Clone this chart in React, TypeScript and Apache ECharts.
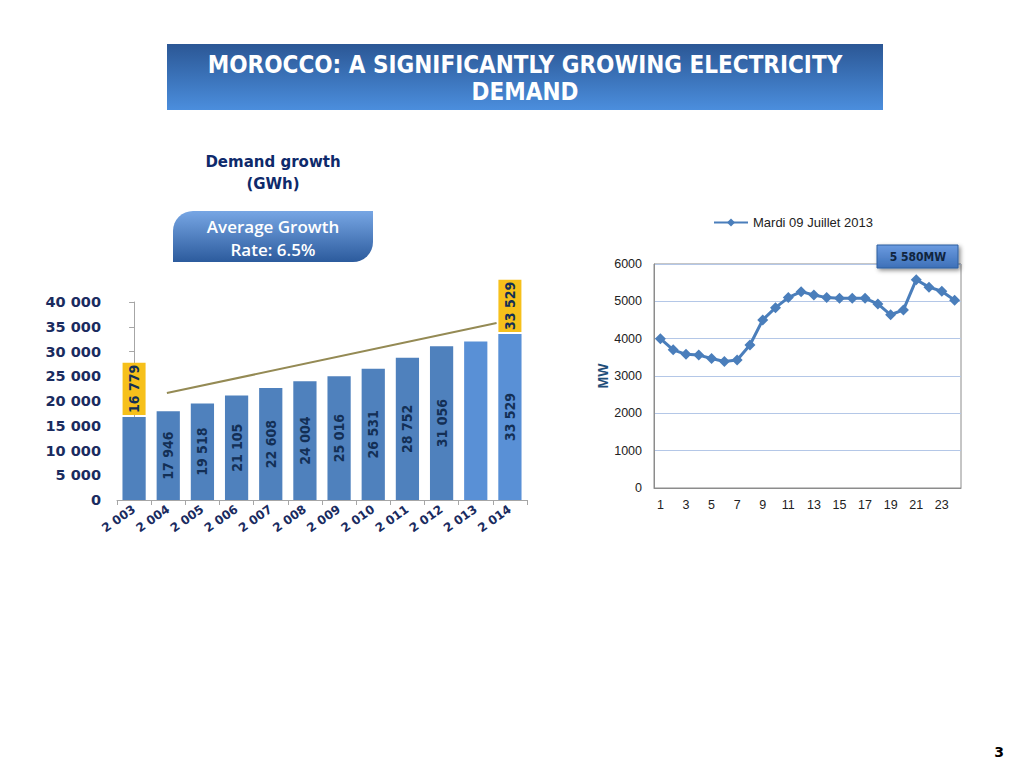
import React, { useEffect, useRef } from "react";
import * as echarts from "echarts";

const years = ["2 003", "2 004", "2 005", "2 006", "2 007", "2 008", "2 009", "2 010", "2 011", "2 012", "2 013", "2 014"];
const demandGWh = [16779, 17946, 19518, 21105, 22608, 24004, 25016, 26531, 28752, 31056, 32000, 33529];
const insideLabelShown = [false, true, true, true, true, true, true, true, true, true, false, true];
const yellowLabelShown = [true, false, false, false, false, false, false, false, false, false, false, true];
const trendX = [0.96, 10.61];
const trendY = [21600, 35760];

const hours = ["1", "2", "3", "4", "5", "6", "7", "8", "9", "10", "11", "12", "13", "14", "15", "16", "17", "18", "19", "20", "21", "22", "23", "24"];
const loadMW = [4000, 3700, 3580, 3560, 3470, 3390, 3430, 3830, 4500, 4830, 5100, 5260, 5170, 5100, 5080, 5080, 5080, 4930, 4640, 4770, 5580, 5380, 5270, 5030];
const legendName = "Mardi 09 Juillet 2013";

const fmt = (n: number) => String(Math.round(n)).replace(/\B(?=(\d{3})+(?!\d))/g, " ");

const NAVY = "#1a2b5f";
const LABEL_NAVY = "#132f55";

export default function App() {
  const ref = useRef<HTMLDivElement>(null);

  useEffect(() => {
    if (!ref.current) return;
    const chart = echarts.init(ref.current, null, { renderer: "svg" });

    const option: any = {
      animation: false,
      backgroundColor: "#ffffff",
      legend: {
        data: [legendName],
        left: 708,
        top: 211,
        itemWidth: 34,
        itemHeight: 10,
        itemGap: 4,
        textStyle: { fontFamily: "Liberation Sans", fontSize: 13, color: "#222" },
      },
      grid: [
        { left: 117, right: 497, top: 302, bottom: 268 },
        { left: 654, right: 63, top: 264, bottom: 280, show: true, borderColor: "#8c8c8c", borderWidth: 1 },
      ],
      xAxis: [
        {
          type: "category",
          gridIndex: 0,
          data: years,
          axisLine: { lineStyle: { color: "#a6a6a6" } },
          axisTick: { show: true, lineStyle: { color: "#a6a6a6" } },
          axisLabel: {
            interval: 0,
            rotate: 35,
            margin: 8,
            fontFamily: "DejaVu Sans",
            fontWeight: "bold",
            fontSize: 12,
            color: NAVY,
          },
        },
        { type: "value", gridIndex: 0, show: false, min: -0.5, max: 11.5 },
        {
          type: "category",
          gridIndex: 1,
          data: hours,
          boundaryGap: true,
          axisLine: { lineStyle: { color: "#8c8c8c" } },
          axisTick: { show: false },
          axisLabel: { interval: 1, fontFamily: "Liberation Sans", fontSize: 12.5, color: "#222", margin: 10 },
        },
      ],
      yAxis: [
        {
          type: "value",
          gridIndex: 0,
          min: 0,
          max: 40000,
          interval: 5000,
          splitLine: { show: false },
          axisLine: { show: true, lineStyle: { color: "#a6a6a6" } },
          axisTick: { show: true, lineStyle: { color: "#a6a6a6" } },
          axisLabel: {
            formatter: (v: number) => fmt(v),
            fontFamily: "DejaVu Sans",
            fontWeight: "bold",
            fontSize: 14.5,
            color: NAVY,
            margin: 16,
          },
        },
        {
          type: "value",
          gridIndex: 1,
          min: 0,
          max: 6000,
          interval: 1000,
          name: "MW",
          nameLocation: "middle",
          nameGap: 44,
          nameTextStyle: { fontFamily: "Liberation Sans", fontWeight: "bold", fontSize: 14, color: "#1f4e79" },
          splitLine: { lineStyle: { color: "#b4c7e7" } },
          axisLine: { show: true, lineStyle: { color: "#8c8c8c" } },
          axisTick: { show: false },
          axisLabel: { formatter: (v: number) => String(v), fontFamily: "Liberation Sans", fontSize: 12.5, color: "#222", margin: 12 },
        },
      ],
      series: [
        {
          type: "bar",
          xAxisIndex: 0,
          yAxisIndex: 0,
          barWidth: "68%",
          silent: true,
          data: demandGWh.map((v, i) => ({
            value: v,
            itemStyle: { color: i >= 10 ? "#5990d6" : "#4f81bd" },
            label: { show: insideLabelShown[i] },
          })),
          label: {
            position: "inside",
            rotate: 90,
            formatter: (p: any) => fmt(p.value),
            fontFamily: "'DejaVu Sans Condensed', sans-serif",
            fontWeight: "bold",
            fontSize: 14,
            color: LABEL_NAVY,
          },
        },
        {
          type: "bar",
          xAxisIndex: 0,
          yAxisIndex: 0,
          barWidth: "68%",
          barGap: "-100%",
          silent: true,
          z: 5,
          data: demandGWh.map((v, i) => ({
            value: v,
            label: { show: yellowLabelShown[i] },
          })),
          itemStyle: { color: "rgba(0,0,0,0)" },
          label: {
            position: "top",
            distance: 2,
            rotate: 90,
            align: "left",
            verticalAlign: "middle",
            formatter: (p: any) => fmt(p.value),
            fontFamily: "'DejaVu Sans Condensed', sans-serif",
            fontWeight: "bold",
            fontSize: 14,
            lineHeight: 17,
            color: LABEL_NAVY,
            backgroundColor: "#f6c01b",
            padding: [3, 2, 3, 2],
          },
        },
        {
          type: "line",
          xAxisIndex: 1,
          yAxisIndex: 0,
          silent: true,
          symbol: "none",
          data: trendX.map((x, i) => [x, trendY[i]]),
          lineStyle: { color: "#948a54", width: 2 },
        },
        {
          name: legendName,
          type: "line",
          xAxisIndex: 2,
          yAxisIndex: 1,
          data: loadMW,
          symbol: "diamond",
          symbolSize: 11,
          showAllSymbol: true,
          color: "#4a7ebb",
          itemStyle: { color: "#4a7ebb" },
          lineStyle: { color: "#4a7ebb", width: 3 },
        },
      ],
      graphic: [
        {
          type: "rect",
          shape: { x: 167, y: 44, width: 716, height: 66 },
          style: {
            fill: {
              type: "linear", x: 0, y: 0, x2: 0, y2: 1,
              colorStops: [
                { offset: 0, color: "#2b5795" },
                { offset: 1, color: "#4b8edd" },
              ],
            },
          },
        },
        {
          type: "text",
          x: 525,
          y: 65,
          style: {
            text: "MOROCCO: A SIGNIFICANTLY GROWING ELECTRICITY",
            fill: "#ffffff",
            font: "bold 24px 'DejaVu Sans Condensed', 'DejaVu Sans', sans-serif",
            align: "center",
            verticalAlign: "middle",
          },
        },
        {
          type: "text",
          x: 525,
          y: 92,
          style: {
            text: "DEMAND",
            fill: "#ffffff",
            font: "bold 24px 'DejaVu Sans Condensed', 'DejaVu Sans', sans-serif",
            align: "center",
            verticalAlign: "middle",
          },
        },
        {
          type: "text",
          x: 273,
          y: 162,
          style: {
            text: "Demand growth",
            fill: "#0e2a6b",
            font: "bold 15px 'DejaVu Sans', sans-serif",
            align: "center",
            verticalAlign: "middle",
          },
        },
        {
          type: "text",
          x: 273,
          y: 184,
          style: {
            text: "(GWh)",
            fill: "#0e2a6b",
            font: "bold 15px 'DejaVu Sans', sans-serif",
            align: "center",
            verticalAlign: "middle",
          },
        },
        {
          type: "rect",
          shape: { x: 173, y: 211, width: 200, height: 51, r: [20, 0, 20, 0] },
          style: {
            fill: {
              type: "linear", x: 0, y: 0, x2: 0, y2: 1,
              colorStops: [
                { offset: 0, color: "#77a6e4" },
                { offset: 1, color: "#2c5b9d" },
              ],
            },
          },
        },
        {
          type: "text",
          x: 273,
          y: 226,
          style: {
            text: "Average Growth",
            fill: "#ffffff",
            font: "600 17px 'Open Sans', sans-serif",
            align: "center",
            verticalAlign: "middle",
          },
        },
        {
          type: "text",
          x: 273,
          y: 249,
          style: {
            text: "Rate: 6.5%",
            fill: "#ffffff",
            font: "600 17px 'Open Sans', sans-serif",
            align: "center",
            verticalAlign: "middle",
          },
        },
        {
          type: "rect",
          z: 100,
          shape: { x: 877, y: 245, width: 81, height: 23 },
          style: {
            fill: {
              type: "linear", x: 0, y: 0, x2: 0, y2: 1,
              colorStops: [
                { offset: 0, color: "#6b9be0" },
                { offset: 1, color: "#3d70b8" },
              ],
            },
            stroke: "#2f5f9f",
            lineWidth: 1,
            shadowBlur: 4,
            shadowOffsetX: 2,
            shadowOffsetY: 2,
            shadowColor: "rgba(0,0,0,0.45)",
          },
        },
        {
          type: "text",
          z: 101,
          x: 918,
          y: 257,
          style: {
            text: "5 580MW",
            fill: "#10253f",
            font: "bold 12px 'DejaVu Sans Condensed', 'DejaVu Sans', sans-serif",
            align: "center",
            verticalAlign: "middle",
          },
        },
        {
          type: "text",
          x: 999,
          y: 752,
          style: {
            text: "3",
            fill: "#000000",
            font: "bold 14px 'DejaVu Sans', sans-serif",
            align: "center",
            verticalAlign: "middle",
          },
        },
      ],
    };

    chart.setOption(option);
    return () => chart.dispose();
  }, []);

  return (
    <div
      ref={ref}
      style={{ position: "fixed", left: 0, top: 0, width: 1024, height: 768, background: "#fff" }}
    />
  );
}
